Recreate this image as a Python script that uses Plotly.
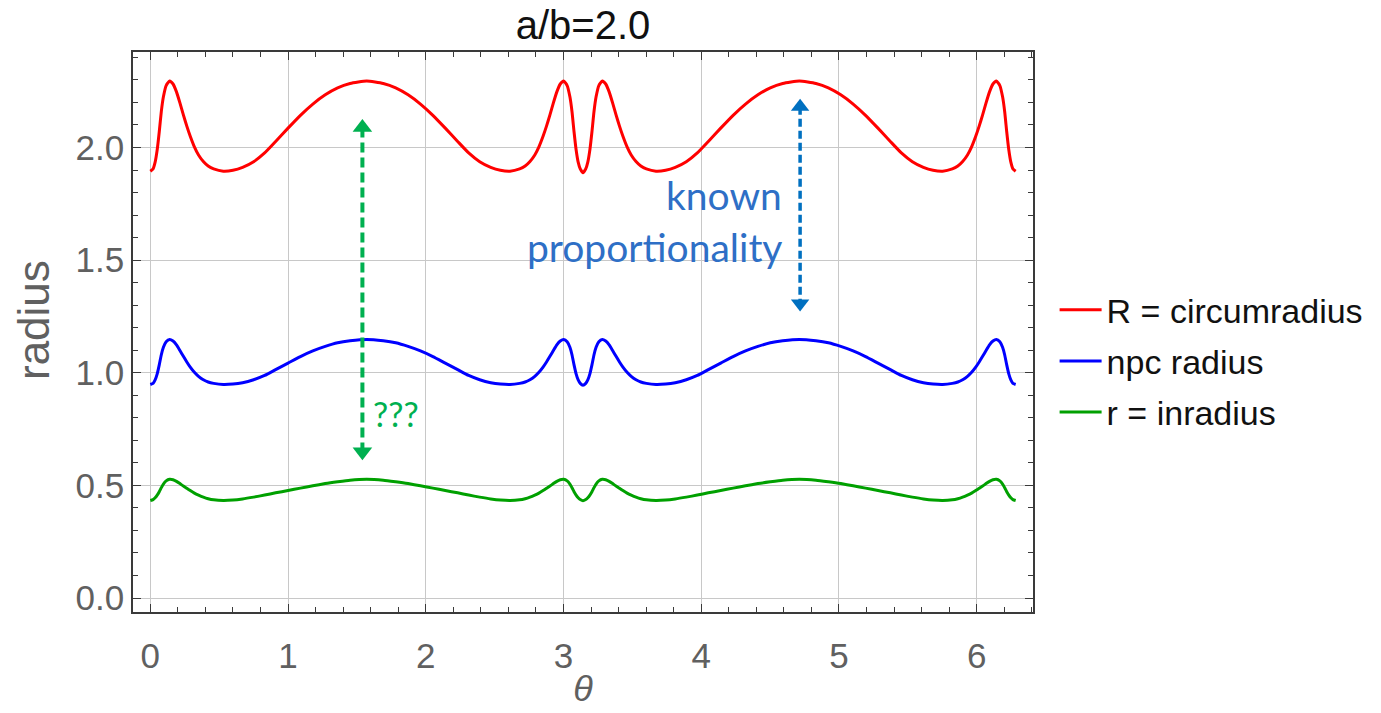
import plotly.graph_objects as go

# ---------------- data ----------------
theta = [
    0.0, 0.02, 0.035, 0.05, 0.065, 0.08, 0.095, 0.115, 0.14, 0.165, 0.19, 0.215, 0.24, 0.265, 0.29, 0.32,
    0.35, 0.385, 0.42, 0.46, 0.53, 0.60, 0.67, 0.75, 0.83, 0.91, 1.00, 1.09, 1.18, 1.27, 1.36, 1.45, 1.571,
    1.6916, 1.7816, 1.8716, 1.9616, 2.0516, 2.1416, 2.2316, 2.3116, 2.3916, 2.4716, 2.5416, 2.6116, 2.6816,
    2.7216, 2.7566, 2.7916, 2.8216, 2.8516, 2.8766, 2.9016, 2.9266, 2.9516, 2.9766, 3.0016, 3.0266, 3.0466,
    3.0616, 3.0766, 3.0916, 3.1066, 3.1216, 3.1416,
    3.1616, 3.1766, 3.1916, 3.2066, 3.2216, 3.2366, 3.2566, 3.2816, 3.3066, 3.3316, 3.3566, 3.3816, 3.4066,
    3.4316, 3.4616, 3.4916, 3.5266, 3.5616, 3.6016, 3.6716, 3.7416, 3.8116, 3.8916, 3.9716, 4.0516, 4.1416,
    4.2316, 4.3216, 4.4116, 4.5016, 4.5916, 4.7126,
    4.8332, 4.9232, 5.0132, 5.1032, 5.1932, 5.2832, 5.3732, 5.4532, 5.5332, 5.6132, 5.6832, 5.7532, 5.8232,
    5.8632, 5.8982, 5.9332, 5.9632, 5.9932, 6.0182, 6.0432, 6.0682, 6.0932, 6.1182, 6.1432, 6.1682, 6.1882,
    6.2032, 6.2182, 6.2332, 6.2482, 6.2632, 6.2832,
]

circumradius = [
    1.895, 1.905, 1.935, 1.99, 2.07, 2.16, 2.225, 2.275, 2.295, 2.282, 2.247, 2.198, 2.145, 2.095, 2.05, 2.003,
    1.967, 1.938, 1.918, 1.905, 1.895, 1.899, 1.912, 1.937, 1.976, 2.027, 2.086, 2.143, 2.193, 2.234, 2.265, 2.284, 2.295,
    2.284, 2.265, 2.234, 2.193, 2.143, 2.086, 2.027, 1.976, 1.937, 1.912, 1.899, 1.895, 1.905,
    1.918, 1.938, 1.967, 2.003, 2.05, 2.095, 2.145, 2.198, 2.247, 2.282, 2.295, 2.275, 2.225,
    2.16, 2.07, 1.99, 1.935, 1.905, 1.888,
    1.905, 1.935, 1.99, 2.07, 2.16, 2.225, 2.275, 2.295, 2.282, 2.247, 2.198, 2.145, 2.095,
    2.05, 2.003, 1.967, 1.938, 1.918, 1.905, 1.895, 1.899, 1.912, 1.937, 1.976, 2.027, 2.086,
    2.143, 2.193, 2.234, 2.265, 2.284, 2.295,
    2.284, 2.265, 2.234, 2.193, 2.143, 2.086, 2.027, 1.976, 1.937, 1.912, 1.899, 1.895, 1.905,
    1.918, 1.938, 1.967, 2.003, 2.05, 2.095, 2.145, 2.198, 2.247, 2.282, 2.295, 2.275, 2.225,
    2.16, 2.07, 1.99, 1.935, 1.905, 1.895,
]

npc_radius = [
    0.948, 0.953, 0.968, 0.995, 1.035, 1.08, 1.113, 1.138, 1.148, 1.141, 1.124, 1.099, 1.073, 1.048, 1.025, 1.002,
    0.984, 0.969, 0.959, 0.953, 0.948, 0.950, 0.956, 0.969, 0.988, 1.014, 1.043, 1.072, 1.097, 1.117, 1.133, 1.142, 1.148,
    1.142, 1.133, 1.117, 1.097, 1.072, 1.043, 1.014, 0.988, 0.969, 0.956, 0.950, 0.948, 0.953,
    0.959, 0.969, 0.984, 1.002, 1.025, 1.048, 1.073, 1.099, 1.124, 1.141, 1.148, 1.138, 1.113,
    1.08, 1.035, 0.995, 0.968, 0.953, 0.945,
    0.953, 0.968, 0.995, 1.035, 1.08, 1.113, 1.138, 1.148, 1.141, 1.124, 1.099, 1.073, 1.048,
    1.025, 1.002, 0.984, 0.969, 0.959, 0.953, 0.948, 0.950, 0.956, 0.969, 0.988, 1.014, 1.043,
    1.072, 1.097, 1.117, 1.133, 1.142, 1.148,
    1.142, 1.133, 1.117, 1.097, 1.072, 1.043, 1.014, 0.988, 0.969, 0.956, 0.950, 0.948, 0.953,
    0.959, 0.969, 0.984, 1.002, 1.025, 1.048, 1.073, 1.099, 1.124, 1.141, 1.148, 1.138, 1.113,
    1.08, 1.035, 0.995, 0.968, 0.953, 0.948,
]

inradius = [
    0.433, 0.437, 0.445, 0.457, 0.472, 0.490, 0.506, 0.520, 0.527, 0.525, 0.518, 0.508, 0.497, 0.487, 0.477, 0.466,
    0.457, 0.448, 0.441, 0.436, 0.433, 0.435, 0.440, 0.448, 0.457, 0.467, 0.477, 0.488, 0.498, 0.508, 0.516, 0.523, 0.527,
    0.523, 0.516, 0.508, 0.498, 0.488, 0.477, 0.467, 0.457, 0.448, 0.440, 0.435, 0.433, 0.436,
    0.441, 0.448, 0.457, 0.466, 0.477, 0.487, 0.497, 0.508, 0.518, 0.525, 0.527, 0.520, 0.506,
    0.490, 0.472, 0.457, 0.445, 0.437, 0.432,
    0.437, 0.445, 0.457, 0.472, 0.490, 0.506, 0.520, 0.527, 0.525, 0.518, 0.508, 0.497, 0.487,
    0.477, 0.466, 0.457, 0.448, 0.441, 0.436, 0.433, 0.435, 0.440, 0.448, 0.457, 0.467, 0.477,
    0.488, 0.498, 0.508, 0.516, 0.523, 0.527,
    0.523, 0.516, 0.508, 0.498, 0.488, 0.477, 0.467, 0.457, 0.448, 0.440, 0.435, 0.433, 0.436,
    0.441, 0.448, 0.457, 0.466, 0.477, 0.487, 0.497, 0.508, 0.518, 0.525, 0.527, 0.520, 0.506,
    0.490, 0.472, 0.457, 0.445, 0.437, 0.433,
]

series_names = ["R = circumradius", "npc radius", "r = inradius"]
series_colors = ["#ff0000", "#0000ff", "#00a000"]

x_ticks = [0, 1, 2, 3, 4, 5, 6]
y_ticks = [0.0, 0.5, 1.0, 1.5, 2.0]

# annotation arrows (double-headed, dashed)
green_arrow_x = [1.54, 1.54]
green_arrow_y = [2.089, 0.649]
blue_arrow_x = [4.718, 4.718]
blue_arrow_y = [2.181, 1.308]

# ---------------- figure ----------------
fig = go.Figure()
for i, (name, ys, col) in enumerate(zip(series_names, [circumradius, npc_radius, inradius], series_colors)):
    fig.add_trace(go.Scatter(
        x=theta, y=ys, mode="lines", name=name, legendgroup=f"g{i}",
        line=dict(color=col, width=3, shape="spline", smoothing=0.5),
    ))

fig.add_trace(go.Scatter(
    x=green_arrow_x, y=green_arrow_y, mode="lines+markers", showlegend=False, hoverinfo="skip",
    line=dict(color="#00b050", width=4, dash="10px,5px"),
    marker=dict(symbol=["triangle-up", "triangle-down"], size=17, color="#00b050"),
))
fig.add_trace(go.Scatter(
    x=blue_arrow_x, y=blue_arrow_y, mode="lines+markers", showlegend=False, hoverinfo="skip",
    line=dict(color="#0070c0", width=3.5, dash="8px,4px"),
    marker=dict(symbol=["triangle-up", "triangle-down"], size=16, color="#0070c0"),
))

axis_common = dict(
    showline=True, linecolor="#3a3a3a", linewidth=1.5, mirror="allticks",
    ticks="inside", ticklen=8, tickwidth=1, tickcolor="#3a3a3a",
    showgrid=True, gridcolor="#c8c8c8", gridwidth=1.2, zeroline=False,
    tickfont=dict(family="Liberation Sans, Arial", size=35, color="#606060"),
)

fig.update_xaxes(
    range=[-0.1257, 6.409], tickvals=x_ticks, ticktext=[str(v) for v in x_ticks],
    minor=dict(dtick=0.2, ticks="inside", ticklen=5, tickcolor="#3a3a3a", showgrid=False),
    title=dict(text="<i>θ</i>", font=dict(family="Liberation Sans, Arial", size=36, color="#606060"), standoff=2),
    ticklabelstandoff=12,
    **axis_common,
)
fig.update_yaxes(
    range=[-0.062, 2.424], tickvals=y_ticks, ticktext=[f"{v:.1f}" for v in y_ticks],
    minor=dict(dtick=0.1, ticks="inside", ticklen=5, tickcolor="#3a3a3a", showgrid=False),
    ticklabelstandoff=0,
    **axis_common,
)

# y-axis title placed to match the reference position
fig.add_annotation(x=(33 - 133) / 900, y=(612 - 320) / 560, xref="paper", yref="paper",
                   text="radius", textangle=-90, showarrow=False, xanchor="center", yanchor="middle",
                   font=dict(family="Liberation Sans, Arial", size=44, color="#606060"))

fig.add_annotation(x=4.602, y=1.79, xref="x", yref="y", text="known", showarrow=False,
                   xanchor="right", yanchor="middle",
                   font=dict(family="Lato", size=39, color="#2e6fc6"))
fig.add_annotation(x=4.602, y=1.56, xref="x", yref="y", text="proportionality", showarrow=False,
                   xanchor="right", yanchor="middle",
                   font=dict(family="Lato", size=39, color="#2e6fc6"))
fig.add_annotation(x=1.784, y=0.82, xref="x", yref="y", text="???", showarrow=False,
                   xanchor="center", yanchor="middle",
                   font=dict(family="Lato", size=34, color="#00b050"))

fig.update_layout(
    width=1381, height=713,
    margin=dict(l=133, r=348, t=52, b=101, autoexpand=False),
    paper_bgcolor="white", plot_bgcolor="white",
    title=dict(text="a/b=2.0", x=(133 + 450) / 1381, xanchor="center", y=1 - 25 / 713, yanchor="middle",
               font=dict(family="Liberation Sans, Arial", size=40, color="#111111")),
    legend=dict(x=1.024, xanchor="left", y=0.448, yanchor="middle",
                font=dict(family="Liberation Sans, Arial", size=34, color="#111111"),
                tracegroupgap=4, itemwidth=42, bgcolor="rgba(0,0,0,0)"),
    showlegend=True,
)

fig.write_html("out.html")
